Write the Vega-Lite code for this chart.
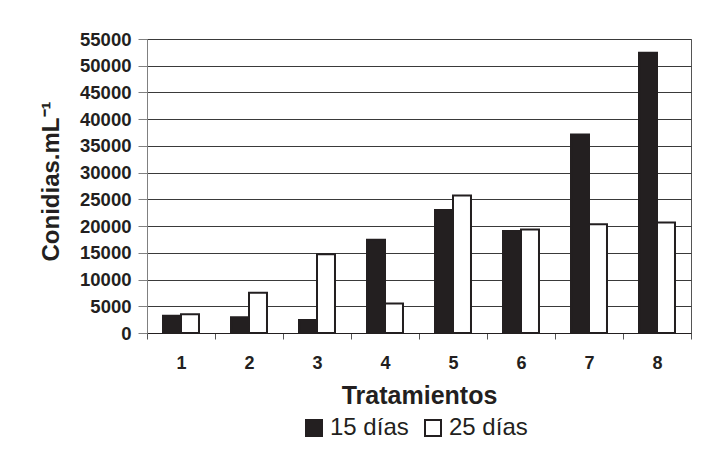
{
  "$schema": "https://vega.github.io/schema/vega-lite/v6.json",
  "width": 544,
  "height": 294,
  "autosize": {"type": "none"},
  "padding": {"left": 147, "top": 39, "right": 31, "bottom": 129},
  "background": "white",
  "config": {"view": {"stroke": "#555555", "strokeWidth": 1}},
  "data": {
    "values": [
      {"tratamiento": 1, "periodo": "15 días", "conidias": 3250},
      {"tratamiento": 1, "periodo": "25 días", "conidias": 3500},
      {"tratamiento": 2, "periodo": "15 días", "conidias": 2950},
      {"tratamiento": 2, "periodo": "25 días", "conidias": 7550},
      {"tratamiento": 3, "periodo": "15 días", "conidias": 2450},
      {"tratamiento": 3, "periodo": "25 días", "conidias": 14750},
      {"tratamiento": 4, "periodo": "15 días", "conidias": 17450},
      {"tratamiento": 4, "periodo": "25 días", "conidias": 5500},
      {"tratamiento": 5, "periodo": "15 días", "conidias": 23000},
      {"tratamiento": 5, "periodo": "25 días", "conidias": 25700},
      {"tratamiento": 6, "periodo": "15 días", "conidias": 19100},
      {"tratamiento": 6, "periodo": "25 días", "conidias": 19350},
      {"tratamiento": 7, "periodo": "15 días", "conidias": 37150},
      {"tratamiento": 7, "periodo": "25 días", "conidias": 20350},
      {"tratamiento": 8, "periodo": "15 días", "conidias": 52450},
      {"tratamiento": 8, "periodo": "25 días", "conidias": 20650}
    ]
  },
  "mark": {"type": "bar", "stroke": "#231f20", "strokeWidth": 2},
  "encoding": {
    "x": {
      "field": "tratamiento",
      "type": "ordinal",
      "scale": {"paddingInner": 0, "paddingOuter": 0},
      "axis": {
        "title": "Tratamientos",
        "labelAngle": 0,
        "tickBand": "extent",
        "tickSize": 6,
        "tickColor": "#555555",
        "domainColor": "#231f20",
        "labelPadding": 15,
        "labelFont": "Liberation Sans",
        "labelFontWeight": "bold",
        "labelFontSize": 18,
        "labelColor": "#231f20",
        "titleFont": "Liberation Sans",
        "titleFontWeight": "bold",
        "titleFontSize": 25,
        "titleColor": "#231f20",
        "titleBaseline": "alphabetic",
        "titleY": 70,
        "grid": false
      }
    },
    "xOffset": {
      "field": "periodo",
      "type": "nominal",
      "sort": ["15 días", "25 días"],
      "scale": {"paddingInner": 0, "paddingOuter": 0.89}
    },
    "y": {
      "field": "conidias",
      "type": "quantitative",
      "scale": {"domain": [0, 55000], "nice": false},
      "axis": {
        "title": "Conidias.mL⁻¹",
        "values": [0, 5000, 10000, 15000, 20000, 25000, 30000, 35000, 40000, 45000, 50000, 55000],
        "format": "d",
        "tickSize": 9,
        "tickColor": "#808080",
        "domainColor": "#808080",
        "labelPadding": 7,
        "labelFont": "Liberation Sans",
        "labelFontWeight": "bold",
        "labelFontSize": 18.5,
        "labelColor": "#231f20",
        "grid": true,
        "gridColor": "#3a3a3a",
        "gridWidth": 1,
        "titleFont": "Liberation Sans",
        "titleFontWeight": "bold",
        "titleFontSize": 24,
        "titleColor": "#231f20",
        "titleAngle": 270,
        "titleAlign": "center",
        "titleBaseline": "alphabetic",
        "titleX": -89,
        "titleY": 142
      }
    },
    "color": {
      "field": "periodo",
      "type": "nominal",
      "scale": {"domain": ["15 días", "25 días"], "range": ["#231f20", "#ffffff"]},
      "legend": {
        "title": null,
        "orient": "none",
        "legendX": 155,
        "legendY": 377,
        "direction": "horizontal",
        "padding": 0,
        "symbolType": "square",
        "symbolSize": 256,
        "symbolStrokeColor": "#231f20",
        "symbolStrokeWidth": 2,
        "labelFont": "Liberation Sans",
        "labelFontSize": 24,
        "labelFontWeight": "normal",
        "labelColor": "#231f20",
        "labelOffset": 4,
        "columnPadding": 12
      }
    }
  }
}
